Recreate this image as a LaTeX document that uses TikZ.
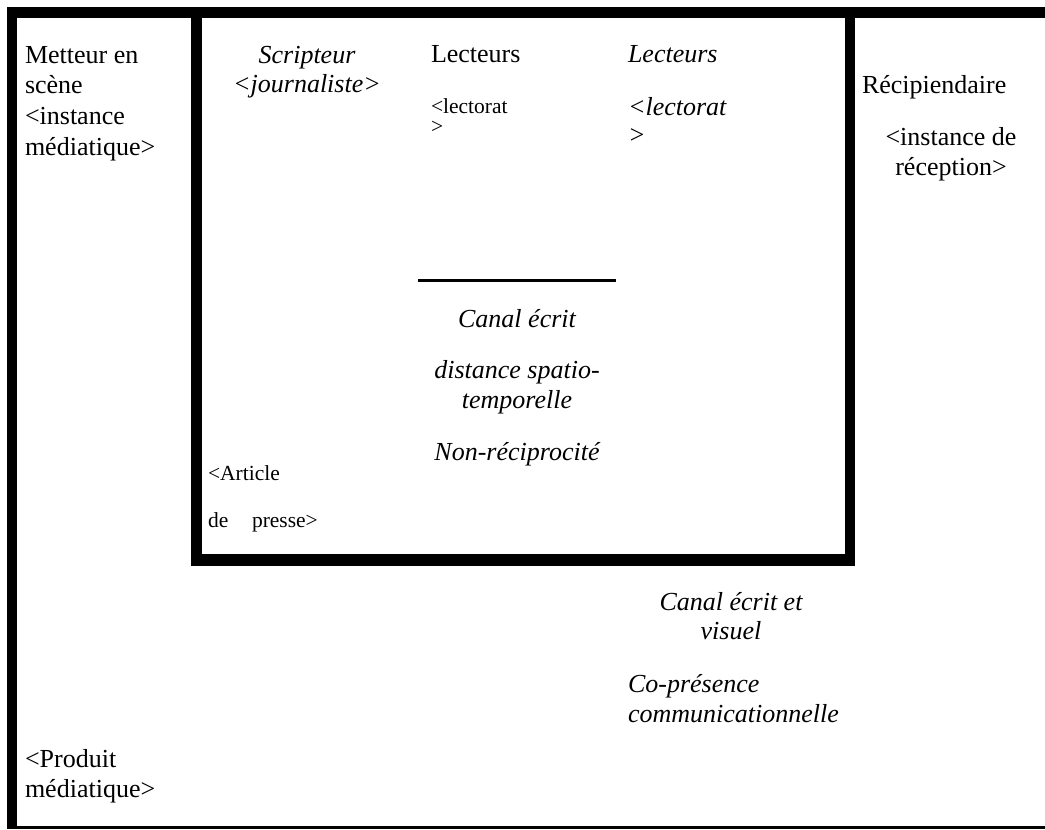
\documentclass[tikz,border=0pt]{standalone}
\usepackage{fontspec}
\setmainfont{Liberation Serif}

% stacked lines with a fixed baseline distance; the box baseline is the first line's
\newcommand\stackL[2][30]{\vtop{\baselineskip=#1pt\lineskiplimit=-100pt\halign{##\hfil\cr #2\crcr}}}
\newcommand\stackC[2][30]{\vtop{\baselineskip=#1pt\lineskiplimit=-100pt\halign{\hfil##\hfil\cr #2\crcr}}}

\begin{document}
\begin{tikzpicture}[x=1pt,y=-1pt,
  bar/.style={fill=black,draw=none},
  txt/.style={inner sep=0pt,outer sep=0pt,font=\fontsize{26}{30}\selectfont},
  small/.style={inner sep=0pt,outer sep=0pt,font=\fontsize{21.5}{20}\selectfont}]
  \useasboundingbox (0,0) rectangle (1045,830);

  % outer frame (open on the right)
  \fill[bar] (7,7) rectangle (1045,18);
  \fill[bar] (7,7) rectangle (17,829);
  \fill[bar] (7,825.5) rectangle (1045,829);

  % inner box
  \fill[bar] (191,7) rectangle (202,566);
  \fill[bar] (191,554) rectangle (855,566);
  \fill[bar] (845,7) rectangle (855,566);

  % short rule above the channel description
  \fill[bar] (418,278.5) rectangle (616,281.5);

  % left column
  \node[txt,anchor=base west] (metteur) at (25,63)
    {\stackL[30.7]{Metteur en\cr scène\cr <instance\cr médiatique>}};
  \node[txt,anchor=base west] (produit) at (25,767)
    {\stackL[30]{<Produit\cr médiatique>}};

  % inner box, top row
  \node[txt,anchor=base] (scripteur) at (307,63)
    {\itshape\stackC[29.5]{Scripteur\cr <journaliste>}};
  \node[txt,anchor=base west] (lecteursA) at (431,62) {Lecteurs};
  \node[small,anchor=base west] (lectoratA) at (431,113)
    {\stackL[20]{<lectorat\cr >}};
  \node[txt,anchor=base west] (lecteursB) at (628,62) {\itshape Lecteurs};
  \node[txt,anchor=base west] (lectoratB) at (628,115)
    {\itshape\stackL[28]{<lectorat\cr >}};

  % inner box, lower part
  \node[txt,anchor=base] (canal) at (517,327) {\itshape Canal écrit};
  \node[txt,anchor=base] (distance) at (517,378)
    {\itshape\stackC[30]{distance spatio-\cr temporelle}};
  \node[txt,anchor=base] (nonrecip) at (517,460) {\itshape Non-réciprocité};
  \node[small,anchor=base west] (article) at (208,480) {<Article};
  \node[small,anchor=base west] (presseA) at (208,527) {de};
  \node[small,anchor=base west] (presseB) at (252,527) {presse>};

  % right column
  \node[txt,anchor=base west] (recip) at (862,93) {Récipiendaire};
  \node[txt,anchor=base] (reception) at (951,145)
    {\stackC[30]{<instance de\cr réception>}};

  % below the inner box
  \node[txt,anchor=base] (canalvis) at (731,610)
    {\itshape\stackC[29]{Canal écrit et\cr visuel}};
  \node[txt,anchor=base west] (copresence) at (628,692)
    {\itshape\stackL[30]{Co-présence\cr communicationnelle}};
\end{tikzpicture}
\end{document}
